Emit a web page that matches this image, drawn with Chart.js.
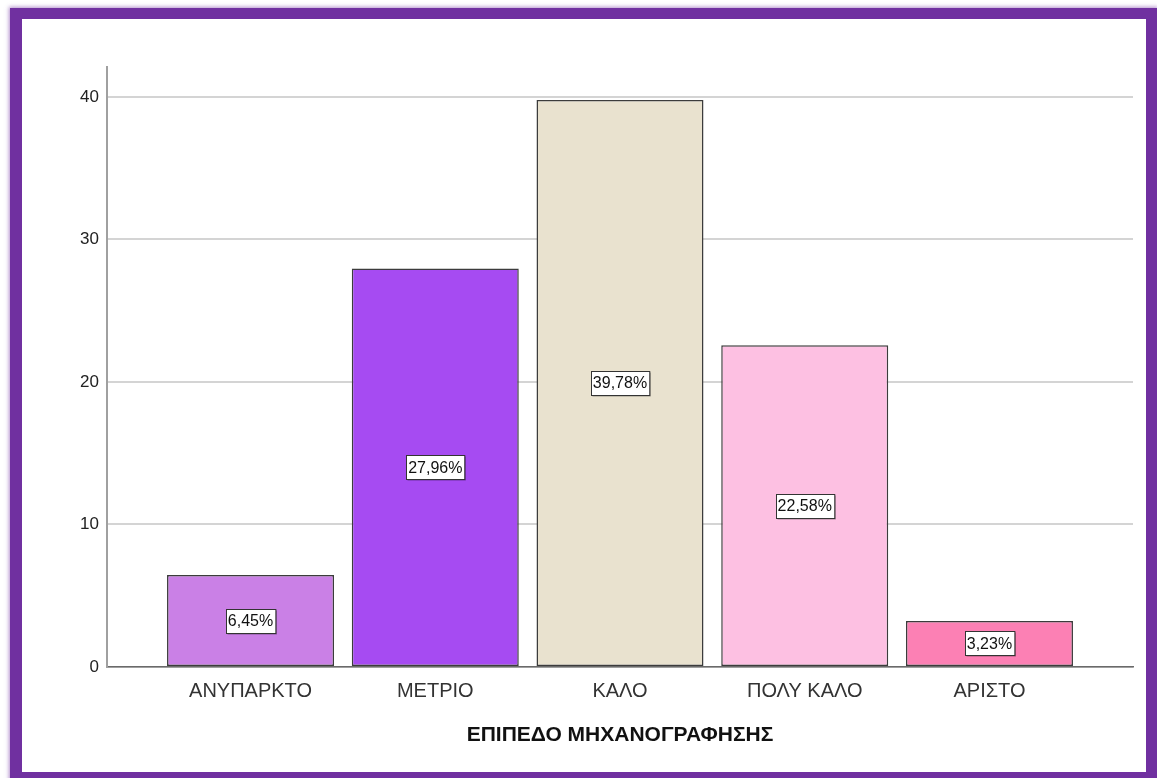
<!DOCTYPE html>
<html>
<head>
<meta charset="utf-8">
<script src="https://cdn.jsdelivr.net/npm/chart.js@4/dist/chart.umd.min.js"></script>
<style>
  html, body { margin: 0; padding: 0; background: #fff; width: 1157px; height: 778px; overflow: hidden; }
  #myChart { position: absolute; left: 0; top: 0; }
  #frame {
    position: absolute; left: 10px; top: 8px; width: 1147px; height: 775px;
    box-sizing: border-box; border: 11px solid #7030a0; border-left-width: 12px;
    box-shadow: 0 0 4px 1px rgba(112, 48, 160, 0.55);
    pointer-events: none; z-index: 2;
  }
</style>
</head>
<body>
<canvas id="myChart" width="1157" height="778"></canvas>
<div id="frame"></div>
<script>
var categories = ['ΑΝΥΠΑΡΚΤΟ', 'ΜΕΤΡΙΟ', 'ΚΑΛΟ', 'ΠΟΛΥ ΚΑΛΟ', 'ΑΡΙΣΤΟ'];
var percents = [6.45, 27.96, 39.78, 22.58, 3.23];
var bar_colors = ['#ca80e6', '#a64bf2', '#e9e2cf', '#fdc0e2', '#fc80b4'];
var y_ticks = [0, 10, 20, 30, 40];
var x_title = 'ΕΠΙΠΕΔΟ ΜΗΧΑΝΟΓΡΑΦΗΣΗΣ';

var font_family = '"Liberation Sans", Arial, sans-serif';

function pctText(v){
    return v.toFixed(2).replace('.', ',') + '%';
}

// white boxed percentage in the middle of each bar
var boxLabels = {
    id: 'boxLabels',
    afterDatasetsDraw: function(chart){
        var ctx = chart.ctx;
        var meta = chart.getDatasetMeta(0);
        ctx.save();
        ctx.font = '16px ' + font_family;
        ctx.textAlign = 'center';
        ctx.textBaseline = 'middle';
        meta.data.forEach(function(bar, i){
            var txt = pctText(percents[i]);
            var cy = (bar.y + bar.base) / 2;
            var w = ctx.measureText(txt).width + 4;
            var h = 24;
            var x0 = Math.round(bar.x - w / 2) + 0.5;
            var y0 = Math.round(cy - h / 2) + 0.5;
            ctx.fillStyle = 'rgba(0,0,0,0.35)';
            ctx.fillRect(x0 + 1, y0 + 1, w, h);
            ctx.fillStyle = '#fff';
            ctx.fillRect(x0, y0, w, h);
            ctx.strokeStyle = '#333';
            ctx.lineWidth = 1;
            ctx.strokeRect(x0, y0, w, h);
            ctx.fillStyle = '#111';
            ctx.fillText(txt, bar.x, cy + 1);
        });
        ctx.restore();
    }
};

var ctx = document.getElementById('myChart').getContext('2d');
var chart = new Chart(ctx, {
    type: 'bar',
    data: {
        datasets: [{
            data: percents.map(function(v, i){ return {x: i, y: v}; }),
            backgroundColor: bar_colors,
            borderColor: '#3c3c3c',
            borderWidth: 1.5,
            borderSkipped: false,
            categoryPercentage: 1,
            barPercentage: 0.904
        }]
    },
    options: {
        responsive: false,
        animation: false,
        events: [],
        layout: { padding: { top: 67, right: 24, bottom: 0, left: 0 } },
        plugins: {
            legend: { display: false },
            tooltip: { enabled: false }
        },
        scales: {
            x: {
                type: 'linear',
                offset: false,
                min: -0.777,
                max: 4.777,
                afterBuildTicks: function(scale){
                    scale.ticks = categories.map(function(c, i){ return {value: i}; });
                },
                afterFit: function(scale){ scale.height = 111; },
                ticks: {
                    callback: function(v){ return categories[v]; },
                    color: '#333',
                    font: { family: font_family, size: 20 },
                    padding: 12,
                    maxRotation: 0,
                    autoSkip: false
                },
                grid: { display: false, drawTicks: false, offset: false },
                border: { display: true, color: '#6a6a6a', width: 1.5 },
                title: {
                    display: true,
                    text: x_title,
                    color: '#111',
                    font: { family: font_family, size: 21, weight: 'bold' },
                    padding: { top: 0, bottom: 30 }
                }
            },
            y: {
                min: 0,
                max: 42.1,
                afterBuildTicks: function(scale){
                    scale.ticks = y_ticks.map(function(v){ return {value: v}; });
                },
                afterFit: function(scale){ scale.width = 107; },
                ticks: {
                    color: '#222',
                    font: { family: font_family, size: 17 },
                    padding: 8
                },
                grid: { color: '#d4d4d4', lineWidth: 2, drawTicks: false },
                border: { display: true, color: '#a0a0a0', width: 2 }
            }
        }
    },
    plugins: [boxLabels]
});
</script>
</body>
</html>
